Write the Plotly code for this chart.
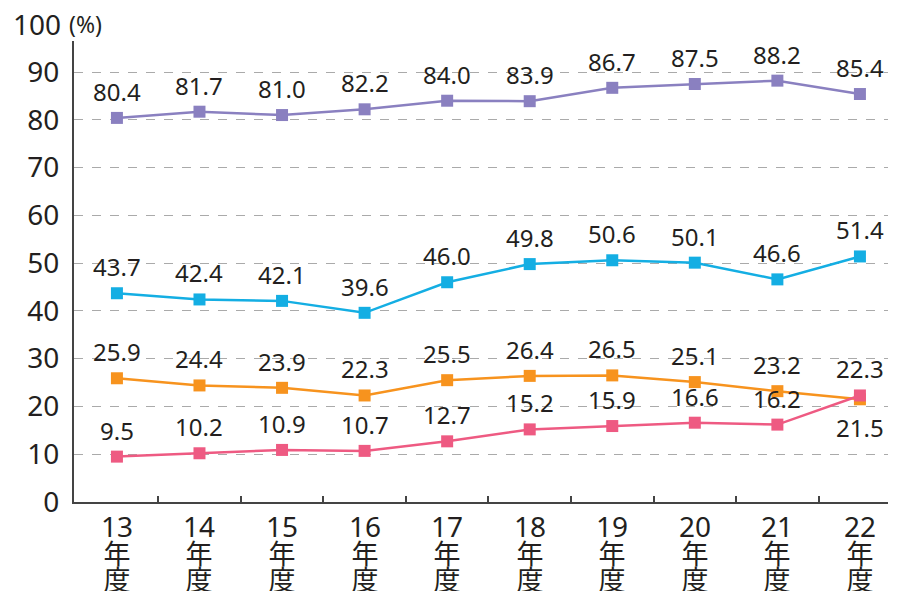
import plotly.graph_objects as go

years = [13, 14, 15, 16, 17, 18, 19, 20, 21, 22]
year_labels = ["13", "14", "15", "16", "17", "18", "19", "20", "21", "22"]
purple = [80.4, 81.7, 81.0, 82.2, 84.0, 83.9, 86.7, 87.5, 88.2, 85.4]
blue = [43.7, 42.4, 42.1, 39.6, 46.0, 49.8, 50.6, 50.1, 46.6, 51.4]
orange = [25.9, 24.4, 23.9, 22.3, 25.5, 26.4, 26.5, 25.1, 23.2, 21.5]
pink = [9.5, 10.2, 10.9, 10.7, 12.7, 15.2, 15.9, 16.6, 16.2, 22.3]
y_ticks = [0, 10, 20, 30, 40, 50, 60, 70, 80, 90]
y_top_label = 100
Y_MAX = 96.5

FONT = "Noto Sans, Noto Sans CJK JP, sans-serif"
TXT = "#231f20"

series = [
    (purple, "#8a80c0"),
    (blue, "#14aee3"),
    (orange, "#f7931e"),
    (pink, "#ee5a82"),
]

fig = go.Figure()
for vals, col in series:
    fig.add_trace(go.Scatter(
        x=years, y=vals, mode="lines+markers",
        line=dict(color=col, width=2.5),
        marker=dict(symbol="square", size=12, color=col),
        showlegend=False, hoverinfo="skip",
    ))

ann = []
for vals, col in series:
    below = (vals is orange)
    for i, (x, v) in enumerate(zip(years, vals)):
        if below and i == len(vals) - 1:
            ann.append(dict(x=x, y=v, text=f"{v:.1f}", showarrow=False,
                            yanchor="top", yshift=-10,
                            font=dict(size=24, color=TXT, family=FONT)))
        else:
            ann.append(dict(x=x, y=v, text=f"{v:.1f}", showarrow=False,
                            yanchor="bottom", yshift=8,
                            font=dict(size=24, color=TXT, family=FONT)))

for x, lab in zip(years, year_labels):
    txt = (f"<span style='font-size:28px'>{lab}</span><br>"
           "<span style='font-size:27px'>年</span><br>"
           "<span style='font-size:27px'>度</span>")
    ann.append(dict(x=x, y=0, yref="paper", text=txt, showarrow=False,
                    yanchor="top", yshift=-3, valign="top",
                    font=dict(size=20.5, color=TXT, family=FONT)))

ann.append(dict(x=0, xref="paper", y=y_top_label / Y_MAX, yref="paper",
                text=str(y_top_label), showarrow=False,
                xanchor="right", xshift=-11, yanchor="middle",
                font=dict(size=28, color=TXT, family=FONT)))
ann.append(dict(x=0, xref="paper", y=y_top_label / Y_MAX, yref="paper",
                text="(%)", showarrow=False,
                xanchor="left", xshift=-7, yanchor="middle",
                font=dict(size=23, color=TXT, family=FONT)))

fig.update_layout(
    width=897, height=591,
    margin=dict(l=74, r=9, t=41, b=89),
    plot_bgcolor="white", paper_bgcolor="white",
    annotations=ann,
    xaxis=dict(
        range=[12.48, 22.34], showgrid=False, zeroline=False,
        tickvals=[y + 0.5 for y in years[:-1]], ticktext=[""] * 9,
        ticks="inside", ticklen=6, tickwidth=1.5, tickcolor="#444",
        showline=True, linecolor="#444", linewidth=2,
    ),
    yaxis=dict(
        range=[0, Y_MAX], tickvals=y_ticks,
        ticktext=[str(t) for t in y_ticks],
        tickfont=dict(size=28, color=TXT, family=FONT),
        showgrid=True, gridcolor="#aaaaaa", griddash="dash", gridwidth=1,
        zeroline=False, showline=True, linecolor="#444", linewidth=2,
        ticks="", ticklabelstandoff=7, automargin=False,
    ),
)

fig.write_html("out.html", config={"displayModeBar": False},
               post_script="document.body.style.margin='0';")
